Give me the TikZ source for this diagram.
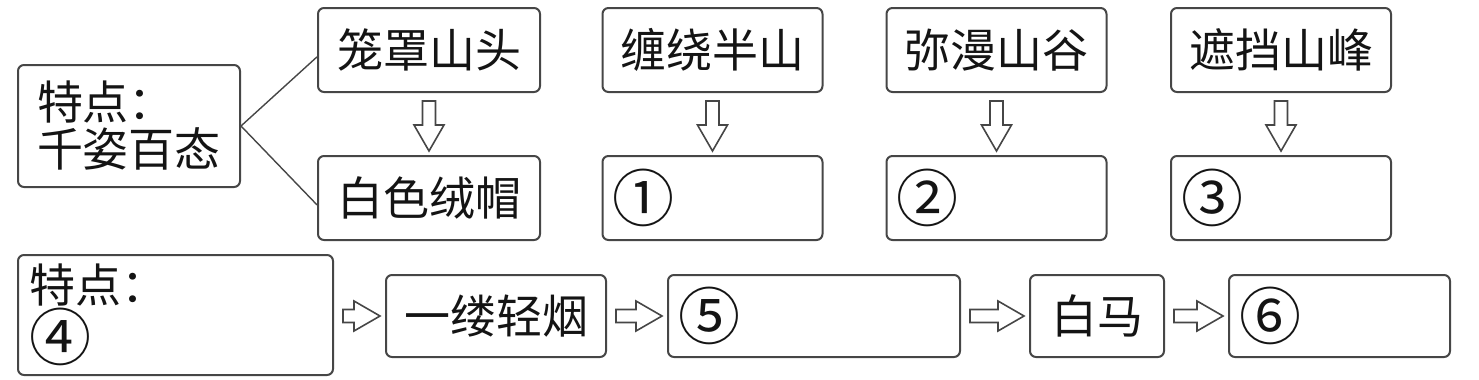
\documentclass[tikz,border=0pt]{standalone}
\usepackage{fontspec}
\setmainfont{Noto Sans CJK SC}
\usepackage{xcolor}
\usetikzlibrary{calc}
\definecolor{boxline}{RGB}{70, 70, 70}
\definecolor{txtclr}{RGB}{20, 20, 20}
\tikzset{
  % Boxes
  box/.style     = {draw=boxline, line width=1pt, rounded corners=3pt,
                    inner sep=0pt, minimum width=110pt, minimum height=42pt,
                    font=\fontsize{23}{23.5}\selectfont, text=txtclr},
  numbox/.style  = {box, text width=100pt, align=left},
  % Connectors
  branch/.style  = {draw=boxline, line width=0.7pt},
  hollow/.style  = {draw=boxline, line width=0.8pt, fill=white, line join=miter},
}
% Circled numbers, set larger
\newcommand{\circnum}[1]{{\fontsize{31}{23.5}\selectfont #1}}
% Hollow block arrows
\newcommand{\hollowdown}[2]{%
  \draw[hollow] let \p1=($(#1.south)+(0,-4pt)$), \p2=($(#2.north)+(0,2pt)$) in
    (\x1-3.25pt,\y1) -- (\x1+3.25pt,\y1) -- (\x1+3.25pt,\y2+13pt)
    -- (\x1+7.5pt,\y2+13pt) -- (\x1,\y2) -- (\x1-7.5pt,\y2+13pt)
    -- (\x1-3.25pt,\y2+13pt) -- cycle;}
\newcommand{\hollowright}[2]{%
  \draw[hollow] let \p1=($(#1.east)+(4.5pt,0)$), \p2=($(#2.west)+(-2.5pt,0)$) in
    (\x1,\y2+3.25pt) -- (\x2-13pt,\y2+3.25pt) -- (\x2-13pt,\y2+7.5pt)
    -- (\x2,\y2) -- (\x2-13pt,\y2-7.5pt) -- (\x2-13pt,\y2-3.25pt)
    -- (\x1,\y2-3.25pt) -- cycle;}

\begin{document}
\begin{tikzpicture}[x=0.5pt, y=-0.5pt]
  \useasboundingbox (0,0) rectangle (1479,380);
  % Upper part
  \node[box, minimum width=111pt, minimum height=61pt, align=left] (trait1) at (129,126) {特点：\\千姿百态};
  \node[box, minimum width=111pt] (cover) at (429,50) {笼罩山头};
  \node[box, minimum width=111pt] (cap) at (429,198) {白色绒帽};
  \node[box] (wind) at (712.5,50) {缠绕半山};
  \node[numbox] (blank1) at (712.5,198) {\circnum{①}};
  \node[box] (fill) at (996.5,50) {弥漫山谷};
  \node[numbox] (blank2) at (996.5,198) {\circnum{②}};
  \node[box] (hide) at (1281,50) {遮挡山峰};
  \node[numbox] (blank3) at (1281,198) {\circnum{③}};
  % Branch lines
  \draw[branch] (trait1.east) -- ($(cover.north west)!0.58!(cover.south west)$);
  \draw[branch] (trait1.east) -- ($(cap.north west)!0.58!(cap.south west)$);
  % Down arrows
  \hollowdown{cover}{cap}
  \hollowdown{wind}{blank1}
  \hollowdown{fill}{blank2}
  \hollowdown{hide}{blank3}
  % Lower part
  \node[box, minimum width=157.5pt, minimum height=60pt, text width=146pt, align=left] (trait2) at (175.5,315) {特点：\\\circnum{④}};
  \node[box, minimum height=41pt] (smoke) at (496,316) {一缕轻烟};
  \node[numbox, minimum width=146pt, text width=136pt, minimum height=41pt] (blank5) at (814,316) {\circnum{⑤}};
  \node[box, minimum width=67pt, minimum height=41pt] (horse) at (1097,316) {白马};
  \node[numbox, minimum width=110.5pt, minimum height=41pt] (blank6) at (1339.5,316) {\circnum{⑥}};
  % Right arrows
  \hollowright{trait2}{smoke}
  \hollowright{smoke}{blank5}
  \hollowright{blank5}{horse}
  \hollowright{horse}{blank6}
\end{tikzpicture}
\end{document}
